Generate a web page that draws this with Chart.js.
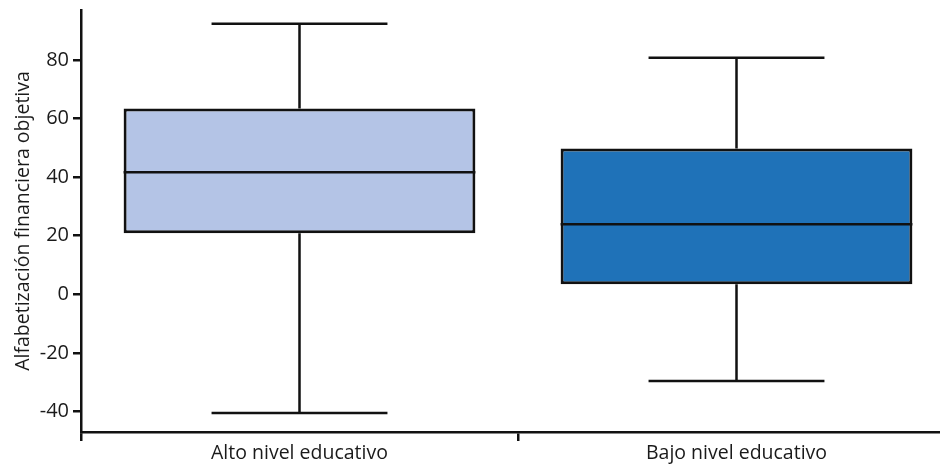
<!DOCTYPE html>
<html>
<head>
<meta charset="utf-8">
<script src="https://cdn.jsdelivr.net/npm/chart.js@4/dist/chart.umd.min.js"></script>
<style>
  html, body { margin: 0; padding: 0; background: #fff; overflow: hidden; width: 940px; height: 468px; }
  #wrap { position: relative; width: 955px; height: 468px; }
</style>
</head>
<body>
<div id="wrap"><canvas id="c" width="955" height="468"></canvas></div>
<script>
const categories = ['Alto nivel educativo', 'Bajo nivel educativo'];
const whiskerLow = [-40.5, -29.6];
const q1 = [20.8, 3.4];
const median = [41.6, 23.9];
const q3 = [63.4, 49.7];
const whiskerHigh = [92.3, 80.7];
const yTicks = [-40, -20, 0, 20, 40, 60, 80];
const boxColors = ['#b4c4e6', '#1f72b8'];
const yTitle = 'Alfabetización financiera objetiva';

const FONT = "'Open Sans', 'Noto Sans', sans-serif";

const boxPlugin = {
  id: 'boxWhiskers',
  afterDatasetsDraw(chart) {
    const ctx = chart.ctx;
    const meta = chart.getDatasetMeta(0);
    const y = chart.scales.y;
    ctx.save();
    ctx.strokeStyle = '#111';
    ctx.lineWidth = 2.5;
    meta.data.forEach((bar, i) => {
      const cx = bar.x;
      const half = bar.width / 2;
      const capHalf = bar.width / 4;
      const pMed = y.getPixelForValue(median[i]);
      const pQ1 = y.getPixelForValue(q1[i]);
      const pQ3 = y.getPixelForValue(q3[i]);
      const pLo = y.getPixelForValue(whiskerLow[i]);
      const pHi = y.getPixelForValue(whiskerHigh[i]);
      ctx.beginPath();
      ctx.moveTo(cx - half, pMed); ctx.lineTo(cx + half, pMed);
      ctx.moveTo(cx, pQ3); ctx.lineTo(cx, pHi);
      ctx.moveTo(cx - capHalf, pHi); ctx.lineTo(cx + capHalf, pHi);
      ctx.moveTo(cx, pQ1); ctx.lineTo(cx, pLo);
      ctx.moveTo(cx - capHalf, pLo); ctx.lineTo(cx + capHalf, pLo);
      ctx.stroke();
    });
    ctx.restore();
  }
};

new Chart(document.getElementById('c'), {
  type: 'bar',
  data: {
    labels: categories,
    datasets: [{
      data: categories.map((_, i) => [q1[i], q3[i]]),
      backgroundColor: boxColors,
      borderColor: '#111',
      borderWidth: 3,
      borderSkipped: false,
      barPercentage: 0.805,
      categoryPercentage: 1.0
    }]
  },
  options: {
    responsive: false,
    animation: false,
    events: [],
    layout: { padding: { top: 10, right: 0, left: 0, bottom: 0 } },
    plugins: { legend: { display: false }, tooltip: { enabled: false } },
    scales: {
      x: {
        offset: true,
        grid: { offset: true, drawOnChartArea: false, tickLength: 9, color: '#111', lineWidth: 2.5 },
        border: { display: true, color: '#111', width: 2.5 },
        ticks: { color: '#1a1a1a', font: { family: FONT, size: 19.5 }, padding: 1, maxRotation: 0 },
        afterFit(scale) { scale.height = 36; scale.paddingLeft = 0; scale.paddingRight = 0; }
      },
      y: {
        min: -47,
        max: 97,
        afterBuildTicks(scale) { scale.ticks = yTicks.map(v => ({ value: v })); },
        grid: { drawOnChartArea: false, tickLength: 8, color: '#111', lineWidth: 2.5 },
        border: { display: true, color: '#111', width: 2.5 },
        ticks: { color: '#1a1a1a', font: { family: FONT, size: 20 }, padding: 4 },
        title: { display: true, text: yTitle, color: '#1a1a1a', font: { family: FONT, size: 19.5 }, padding: { top: 12, bottom: 0 } },
        afterFit(scale) { scale.width = 81; scale.paddingTop = 0; scale.paddingBottom = 0; }
      }
    }
  },
  plugins: [boxPlugin]
});
</script>
</body>
</html>
